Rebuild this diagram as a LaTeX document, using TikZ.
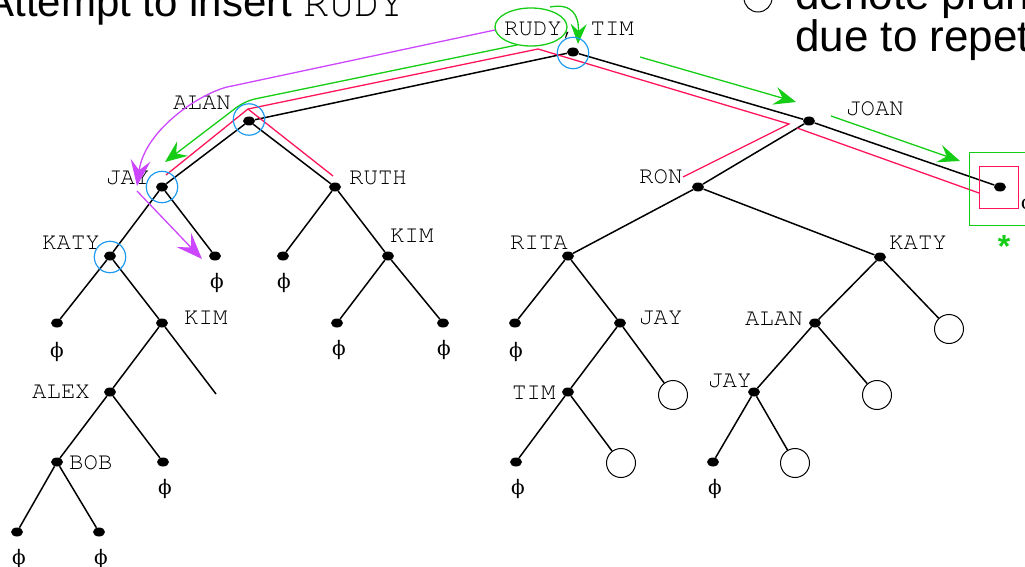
\documentclass[tikz,border=0pt]{standalone}
\usepackage{fontspec}
\setmainfont{Liberation Sans}
\newfontfamily\cour{TeX Gyre Cursor}
\newfontfamily\phifont{DejaVu Serif}
\usetikzlibrary{shapes.geometric,arrows.meta}
\definecolor{agreen}{RGB}{20,205,20}
\definecolor{ared}{RGB}{255,20,90}
\definecolor{amag}{RGB}{205,70,255}
\definecolor{ablue}{RGB}{30,155,240}
\begin{document}
\begin{tikzpicture}[x=1pt,y=-1pt,
  dot/.style={ellipse,fill=black,inner sep=0pt,minimum width=12pt,minimum height=9pt},
  pruned/.style={circle,draw=black,line width=1pt,inner sep=0pt,minimum size=29pt},
  edge/.style={line width=1.5pt,black},
  lbl/.style={anchor=base west,inner sep=0pt,font=\cour\fontsize{24}{24}\selectfont},
  nul/.style={inner sep=0pt,font=\phifont\fontsize{20}{20}\selectfont},
  redl/.style={line width=1.3pt,ared},
  greenl/.style={line width=1.3pt,agreen},
  magl/.style={line width=1.3pt,amag},
  bluec/.style={line width=1.2pt,ablue},
  garrow/.style={-{Stealth[length=22pt,width=18pt,inset=8pt]}},
  marrow/.style={-{Stealth[length=26pt,width=20pt,inset=10pt]}},
  bigtext/.style={inner sep=0pt,font=\fontsize{44}{44}\selectfont},
  titletext/.style={inner sep=0pt,font=\fontsize{42}{42}\selectfont}
]
\useasboundingbox (0,0) rectangle (1025,567);
\clip (0,0) rectangle (1025,567);

% title and legend
\node[titletext,anchor=base east] (title) at (405,17) {Attempt to insert {\cour RUDY}};
\draw[line width=1pt] (758,-2) circle[radius=14pt];
\node[bigtext,anchor=base west] (leg1) at (795,10) {denote pruned};
\node[bigtext,anchor=base west] (leg2) at (795,52) {due to repetition};

% nodes
\node[dot] (root) at (573,52) {};
\node[dot] (alan) at (249,121) {};
\node[dot] (jay) at (162,187) {};
\node[dot] (ruth) at (335,187) {};
\node[dot] (katy) at (110,256) {};
\node[dot] (jayR) at (215,256) {};
\node[dot] (ruthL) at (283,256) {};
\node[dot] (kimA) at (388,256) {};
\node[dot] (kimAL) at (337,323) {};
\node[dot] (kimAR) at (443,323) {};
\node[dot] (katyL) at (57,323) {};
\node[dot] (kimB) at (162,323) {};
\node[dot] (alex) at (110,392) {};
\coordinate (kimBR) at (216,394);
\node[dot] (bob) at (57,462) {};
\node[dot] (alexR) at (163,462) {};
\node[dot] (bobL) at (17,532) {};
\node[dot] (bobR) at (99,532) {};
\node[dot] (joan) at (809,121) {};
\node[dot] (ron) at (698,187) {};
\node[dot] (joanR) at (1000,187) {};
\node[dot] (rita) at (568,256) {};
\node[dot] (katyB) at (880,257) {};
\node[dot] (ritaL) at (515,323) {};
\node[dot] (jayB) at (620,323) {};
\node[dot] (tim) at (568,392) {};
\node[pruned] (jayBR) at (673,395) {};
\node[dot] (timL) at (516,462) {};
\node[pruned] (timR) at (621,463) {};
\node[dot] (alanB) at (815,323) {};
\node[pruned] (katyBR) at (949,329) {};
\node[dot] (jayC) at (754,392) {};
\node[pruned] (alanBR) at (877,395) {};
\node[dot] (jayCL) at (713,462) {};
\node[pruned] (jayCR) at (795,463) {};

% edges
\draw[edge] (root) -- (alan);
\draw[edge] (root) -- (joan);
\draw[edge] (alan) -- (jay);
\draw[edge] (alan) -- (ruth);
\draw[edge] (jay) -- (katy);
\draw[edge] (jay) -- (jayR);
\draw[edge] (ruth) -- (ruthL);
\draw[edge] (ruth) -- (kimA);
\draw[edge] (kimA) -- (kimAL);
\draw[edge] (kimA) -- (kimAR);
\draw[edge] (katy) -- (katyL);
\draw[edge] (katy) -- (kimB);
\draw[edge] (kimB) -- (alex);
\draw[edge] (kimB) -- (kimBR);
\draw[edge] (alex) -- (bob);
\draw[edge] (alex) -- (alexR);
\draw[edge] (bob) -- (bobL);
\draw[edge] (bob) -- (bobR);
\draw[edge] (joan) -- (ron);
\draw[edge] (joan) -- (joanR);
\draw[edge] (ron) -- (rita);
\draw[edge] (ron) -- (katyB);
\draw[edge] (rita) -- (ritaL);
\draw[edge] (rita) -- (jayB);
\draw[edge] (jayB) -- (tim);
\draw[edge] (jayB) -- (jayBR);
\draw[edge] (tim) -- (timL);
\draw[edge] (tim) -- (timR);
\draw[edge] (katyB) -- (alanB);
\draw[edge] (katyB) -- (katyBR);
\draw[edge] (alanB) -- (jayC);
\draw[edge] (alanB) -- (alanBR);
\draw[edge] (jayC) -- (jayCL);
\draw[edge] (jayC) -- (jayCR);

% labels
\node[lbl] (lroot) at (504,36) {RUDY, TIM};
\node[lbl] (lalan) at (173,110) {ALAN};
\node[lbl] (ljay) at (106,184) {JAY};
\node[lbl] (lruth) at (349,184) {RUTH};
\node[lbl] (lkaty) at (42,249) {KATY};
\node[lbl] (lkimA) at (390,242) {KIM};
\node[lbl] (lkimB) at (184,324) {KIM};
\node[lbl] (lalex) at (32,398) {ALEX};
\node[lbl] (lbob) at (69,469) {BOB};
\node[lbl] (ljoan) at (846,116) {JOAN};
\node[lbl] (lron) at (639,183) {RON};
\node[lbl] (lrita) at (510,249) {RITA};
\node[lbl] (lkatyB) at (889,249) {KATY};
\node[lbl] (ljayB) at (639,324) {JAY};
\node[lbl] (ltim) at (512,399) {TIM};
\node[lbl] (lalanB) at (745,325) {ALAN};
\node[lbl] (ljayC) at (708,387) {JAY};

% null leaves
\node[nul] (n1) at (217,283) {ϕ};
\node[nul] (n2) at (284,283) {ϕ};
\node[nul] (n3) at (339,350) {ϕ};
\node[nul] (n4) at (444,350) {ϕ};
\node[nul] (n5) at (57,352) {ϕ};
\node[nul] (n6) at (165,489) {ϕ};
\node[nul] (n7) at (19,559) {ϕ};
\node[nul] (n8) at (101,559) {ϕ};
\node[nul] (n9) at (516,352) {ϕ};
\node[nul] (n10) at (518,489) {ϕ};
\node[nul] (n11) at (715,489) {ϕ};
\node[nul] (n12) at (1028,204) {ϕ};

% red contour
\coordinate (r1) at (166,175);
\coordinate (r2) at (248,109);
\coordinate (r3) at (333,176);
\coordinate (r4) at (538,49);
\coordinate (r5) at (789,124);
\coordinate (r6) at (683,177);
\coordinate (r7) at (797,128);
\coordinate (r8) at (979,193);
\draw[redl] (r1) -- (r2) -- (r3);
\draw[redl] (r2) -- (r4) -- (r5) -- (r6);
\draw[redl] (r7) -- (r8);
\draw[line width=1pt,ared] (979,166) rectangle (1018,208);
\draw[line width=1pt,agreen] (969,152) rectangle (1032,225);
\node[anchor=base,inner sep=0pt,text=agreen,font=\fontsize{32}{32}\selectfont\bfseries] (star) at (1004,257) {*};

% green path
\draw[greenl] (531,27) ellipse[x radius=36pt, y radius=19pt];
\coordinate (g1) at (517,45);
\coordinate (g2) at (245,101);
\coordinate (g3) at (165,162);
\draw[greenl,garrow,rounded corners=10pt] (g1) -- (g2) -- (g3);
\coordinate (g4) at (640,57);
\coordinate (g5) at (796,102);
\draw[greenl,garrow] (g4) -- (g5);
\coordinate (g6) at (831,116);
\coordinate (g7) at (960,161);
\draw[greenl,garrow] (g6) -- (g7);
\coordinate (g8) at (550,7);
\coordinate (g9) at (578,44);
\draw[greenl,-{Stealth[length=20pt,width=16pt,inset=7pt]}] (g8) .. controls (572,3) and (579,15) .. (g9);

% magenta path
\coordinate (m1) at (495,30);
\coordinate (m2) at (232,86);
\coordinate (m3) at (137,186);
\draw[magl,marrow] (m1) -- (m2) .. controls (205,90) and (145,128) .. (m3);
\coordinate (m4) at (137,191);
\coordinate (m5) at (202,259);
\draw[magl,marrow] (m4) -- (m5);

% blue circles
\draw[bluec] (573,53) circle[radius=15.7pt];
\draw[bluec] (249,119.5) circle[radius=15.7pt];
\draw[bluec] (162,187) circle[radius=15.7pt];
\draw[bluec] (110,257) circle[radius=15.7pt];
\end{tikzpicture}
\end{document}
